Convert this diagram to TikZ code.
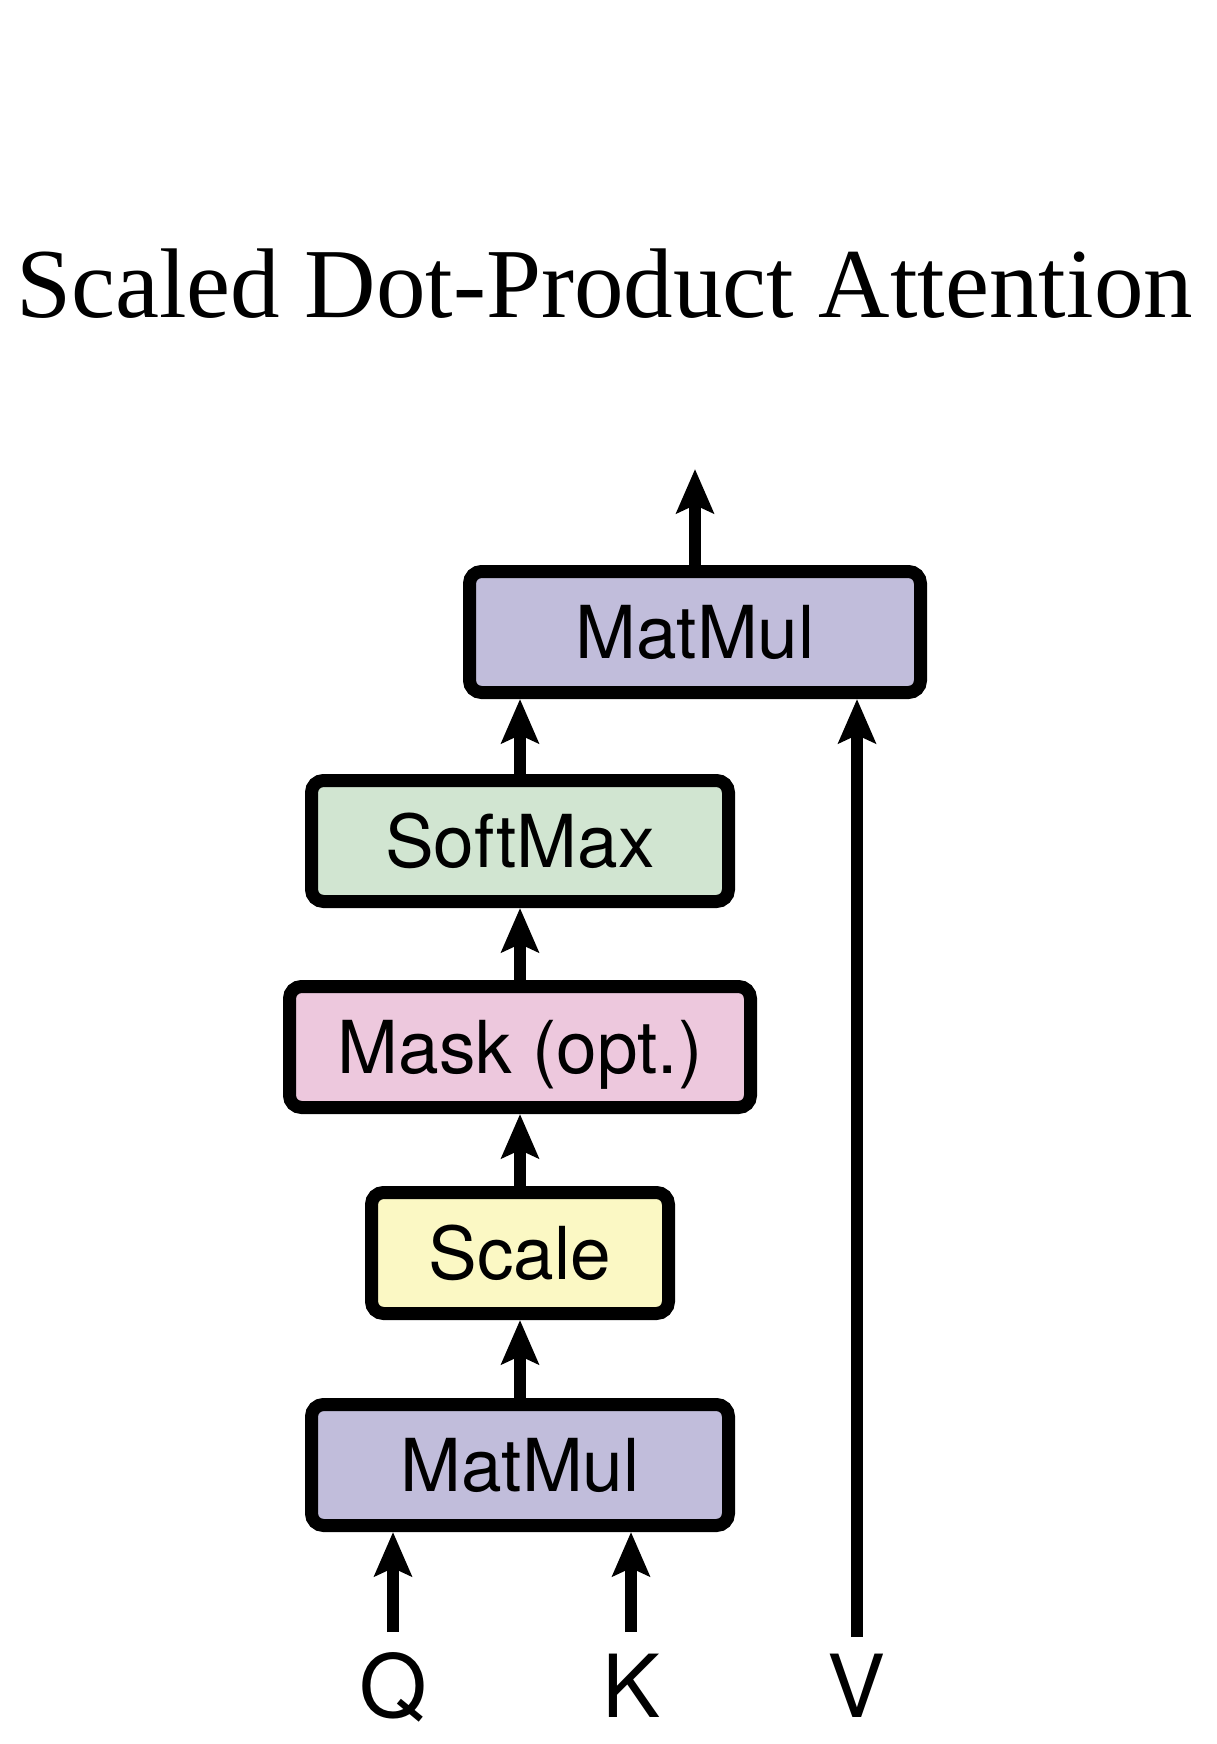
\documentclass[tikz,border=0pt]{standalone}
\usepackage{fontspec}
\setmainfont{Liberation Serif}
\newfontfamily\boxfont{TeX Gyre Heros}
\usetikzlibrary{arrows.meta}
\definecolor{mmfill}{HTML}{C1BDDB}
\definecolor{smfill}{HTML}{D1E5D1}
\definecolor{mkfill}{HTML}{EDC8DD}
\definecolor{scfill}{HTML}{FBF8C4}
\begin{document}
\begin{tikzpicture}[x=1pt,y=-1pt,
  blk/.style={draw=black, line width=13pt, rounded corners=12pt, inner sep=0pt,
    minimum height=121pt, font=\boxfont\fontsize{73}{78}\selectfont,
    text height=53pt, text depth=0pt},
  conn/.style={line width=12pt, -{Stealth[length=44pt,width=37pt,inset=8pt]}},
  lbl/.style={font=\boxfont\fontsize{87}{95}\selectfont, anchor=base, inner sep=0pt},
  ttl/.style={font=\fontsize{99}{110}\selectfont, anchor=base, inner sep=0pt}]
\useasboundingbox (0,0) rectangle (1217,1744);

\node[ttl] (title) at (604.5,317) {Scaled Dot-Product Attention};

\node[blk, fill=mmfill, minimum width=451pt] (mm2) at (695,632) {MatMul};
\node[blk, fill=smfill, minimum width=417pt] (softmax) at (520,841) {SoftMax};
\node[blk, fill=mkfill, minimum width=461pt] (mask) at (520,1047) {Mask (opt.)};
\node[blk, fill=scfill, minimum width=297pt] (scale) at (520,1253) {Scale};
\node[blk, fill=mmfill, minimum width=417pt] (mm1) at (520,1465) {MatMul};

\coordinate (out) at (695,469);
\coordinate (qbot) at (393,1632);
\coordinate (kbot) at (631,1632);
\coordinate (vbot) at (857,1637);

\draw[conn] (mm2.north) -- (out);
\draw[conn] (softmax.north -| 520,0) -- (mm2.south -| 520,0);
\draw[conn] (mask.north) -- (softmax.south);
\draw[conn] (scale.north) -- (mask.south);
\draw[conn] (mm1.north) -- (scale.south);
\draw[conn] (qbot) -- (qbot |- mm1.south);
\draw[conn] (kbot) -- (kbot |- mm1.south);
\draw[conn] (vbot) -- (vbot |- mm2.south);

\node[lbl] (qlab) at (393,1717) {Q};
\node[lbl] (klab) at (632,1717) {K};
\node[lbl] (vlab) at (857,1717) {V};
\end{tikzpicture}
\end{document}
